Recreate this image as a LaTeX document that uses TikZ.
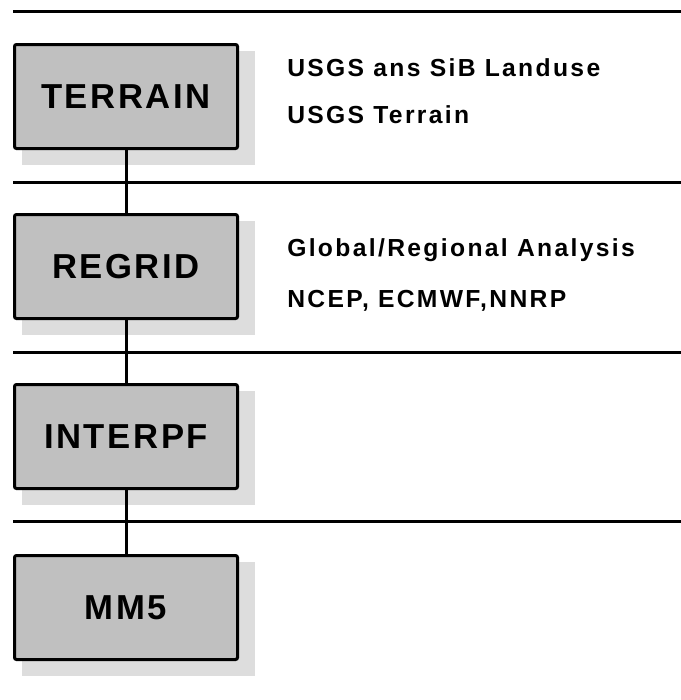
\documentclass[tikz,border=0pt]{standalone}
\usepackage{fontspec}
\setmainfont{Liberation Sans}[LetterSpace=7.5]
\newfontfamily\infofont{Liberation Sans}[LetterSpace=9.5]
\usetikzlibrary{calc}
\definecolor{boxfill}{HTML}{C0C0C0}
\definecolor{shadowc}{HTML}{DDDDDD}
\tikzset{
  stagebox/.style={draw=black, fill=boxfill, line width=2.25pt, rounded corners=1.5pt,
    minimum width=167.25pt, minimum height=78pt, inner sep=0pt,
    font=\fontsize{26pt}{30pt}\selectfont\bfseries},
  divider/.style={line width=2.25pt},
  link/.style={line width=2.25pt},
  info/.style={anchor=base west, inner sep=0pt, font=\infofont\fontsize{18.5pt}{22pt}\selectfont\bfseries}
}
\newcommand{\boxshadow}[1]{%
  \fill[shadowc] ($(#1.south west)+(8.5,14.5)$) rectangle ($(#1.north east)+(15.5,7.5)$);}
\begin{document}
\begin{tikzpicture}[x=0.75pt,y=-0.75pt]
\useasboundingbox (0,0) rectangle (681,700);
% dividers
\draw[divider] (13,11) -- (681,11);
\draw[divider] (13,182) -- (681,182);
\draw[divider] (13,352) -- (681,352);
\draw[divider] (13,521) -- (681,521);
% boxes (placed invisibly first for shadows)
\path (126,96.5) node[stagebox, draw=none, fill=none] (t0) {};
\path (126,266.5) node[stagebox, draw=none, fill=none] (r0) {};
\path (126,436.5) node[stagebox, draw=none, fill=none] (i0) {};
\path (126,607.5) node[stagebox, draw=none, fill=none] (m0) {};
\boxshadow{t0}
\boxshadow{r0}
\boxshadow{i0}
\boxshadow{m0}
\node[stagebox] (terrain) at (126,96.5) {TERRAIN};
\node[stagebox] (regrid) at (126,266.5) {REGRID};
\node[stagebox] (interpf) at (126,436.5) {INTERPF};
\node[stagebox] (mm5) at (126,607.5) {MM5};
% connectors
\draw[link] (terrain) -- (regrid);
\draw[link] (regrid) -- (interpf);
\draw[link] (interpf) -- (mm5);
% info text
\node[info] (t1) at (287,76) {USGS ans SiB Landuse};
\node[info] (t2) at (287,123) {USGS Terrain};
\node[info] (r1) at (287,256) {Global/Regional Analysis};
\node[info] (r2) at (287,307) {NCEP, ECMWF,NNRP};
\end{tikzpicture}
\end{document}
